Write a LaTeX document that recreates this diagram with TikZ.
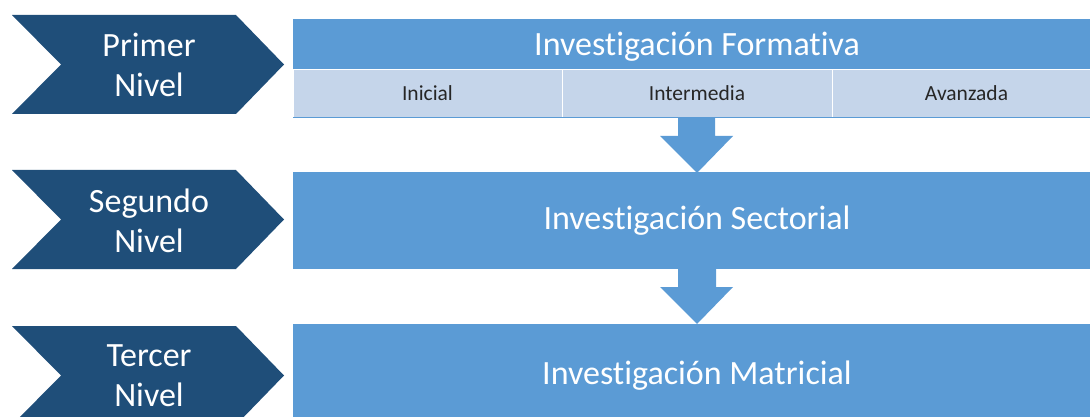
\documentclass[tikz,border=0pt]{standalone}
\usepackage{fontspec}
\setmainfont{Carlito}[Ligatures={NoCommon}]
\definecolor{darkblue}{HTML}{1F4E79}
\definecolor{midblue}{HTML}{5B9BD5}
\definecolor{lightblue}{HTML}{C5D5EA}
\definecolor{subtext}{HTML}{262626}
\begin{document}
\begin{tikzpicture}[x=1pt,y=-1pt,
  chev/.style={fill=darkblue},
  lvl/.style={text=white,align=center,font=\fontsize{34}{40}\selectfont,inner sep=0pt},
  mainbox/.style={fill=midblue},
  title/.style={text=white,font=\fontsize{34}{38}\selectfont,inner sep=0pt},
  subcell/.style={fill=lightblue,draw=white,line width=0.8pt},
  sublabel/.style={text=subtext,font=\fontsize{21.5}{24}\selectfont,inner sep=0pt},
  blockarrow/.style={fill=midblue}]
\useasboundingbox (0,0) rectangle (1090,417);
\clip (0,0) rectangle (1090,417);
% chevrons
\path[chev] (12,15) -- (236,15) -- (284,64.5) -- (236,114) -- (12,114) -- (61,64.5) -- cycle;
\path[chev] (12,170) -- (236,170) -- (284,219.5) -- (236,269) -- (12,269) -- (61,219.5) -- cycle;
\path[chev] (12,326) -- (236,326) -- (284,375.5) -- (236,425) -- (12,425) -- (61,375.5) -- cycle;
\node[lvl] (l1) at (149,64.5) {Primer\\Nivel};
\node[lvl] (l2) at (149,220.5) {Segundo\\Nivel};
\node[lvl] (l3) at (149,375.5) {Tercer\\Nivel};
% box 1
\path[mainbox] (293,19) rectangle (1101,69);
\path[subcell] (293,69) rectangle (562,117);
\path[subcell] (562,69) rectangle (832,117);
\path[subcell] (832,69) rectangle (1101,117);
\draw[midblue,line width=0.8pt] (293,117) -- (1101,117);
\node[title] (t1) at (697,46.5) {Investigación Formativa};
\node[sublabel] (s1) at (427.5,93) {Inicial};
\node[sublabel] (s2) at (697,93) {Intermedia};
\node[sublabel] (s3) at (966.5,93) {Avanzada};
% box 2 and 3
\path[mainbox] (293,172) rectangle (1101,269);
\node[title] (t2) at (697,221) {Investigación Sectorial};
\path[mainbox] (293,324) rectangle (1101,430);
\node[title] (t3) at (697,376) {Investigación Matricial};
% block arrows
\path[blockarrow] (678,117.5) -- (715,117.5) -- (715,136) -- (733,136) -- (697,173) -- (660,136) -- (678,136) -- cycle;
\path[blockarrow] (678,269) -- (716,269) -- (716,287) -- (733,287) -- (697,324) -- (660,287) -- (678,287) -- cycle;
\end{tikzpicture}
\end{document}
